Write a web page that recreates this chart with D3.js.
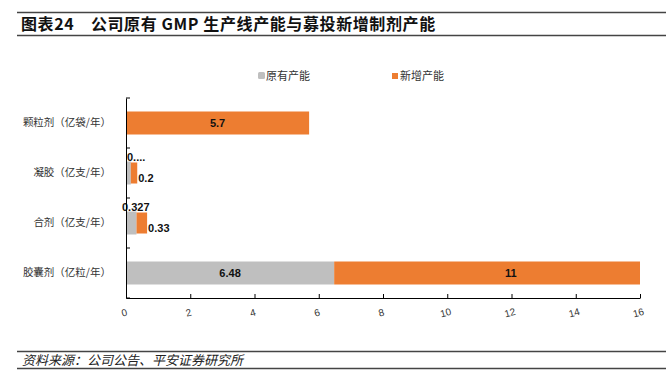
<!DOCTYPE html>
<html>
<head>
<meta charset="utf-8">
<script src="https://cdn.jsdelivr.net/npm/d3@7"></script>
<style>
  body { margin: 0; background: #fff; }
  svg { display: block; font-family: "Liberation Sans", Arial, "Noto Sans CJK SC", sans-serif; }
  .cjk { font-family: "Noto Sans CJK SC", sans-serif; }
</style>
</head>
<body>
<div id="chart"></div>
<script>
// data
const categories = ["颗粒剂（亿袋/年）", "凝胶（亿支/年）", "合剂（亿支/年）", "胶囊剂（亿粒/年）"];
const existing = [0, 0.15, 0.327, 6.48];      // 原有产能
const added = [5.7, 0.2, 0.33, 11];           // 新增产能
const existingLabels = ["", "0....", "0.327", "6.48"];
const addedLabels = ["5.7", "0.2", "0.33", "11"];
const xTicks = [0, 2, 4, 6, 8, 10, 12, 14, 16];
const seriesNames = ["原有产能", "新增产能"];
const colors = ["#BFBFBF", "#ED7D31"];

const W = 666, H = 374;
const MARGIN = { LEFT: 126, RIGHT: 26, TOP: 98, BOTTOM: 76 };
const width = W - MARGIN.LEFT - MARGIN.RIGHT;
const height = H - MARGIN.TOP - MARGIN.BOTTOM;

const svg = d3.select("#chart").append("svg")
    .attr("width", W)
    .attr("height", H);

// title block
svg.append("line").attr("x1", 17).attr("x2", 666).attr("y1", 12.5).attr("y2", 12.5)
    .attr("stroke", "#444").attr("stroke-width", 1.3);
svg.append("line").attr("x1", 17).attr("x2", 666).attr("y1", 35.5).attr("y2", 35.5)
    .attr("stroke", "#444").attr("stroke-width", 1.3);
svg.append("text")
    .attr("class", "cjk")
    .attr("x", 21).attr("y", 30)
    .attr("font-size", "16px").attr("font-weight", "bold").attr("fill", "#111")
    .attr("letter-spacing", "0.6px")
    .text("图表24\u3000公司原有 GMP 生产线产能与募投新增制剂产能");

// source block
svg.append("line").attr("x1", 17).attr("x2", 666).attr("y1", 351.5).attr("y2", 351.5)
    .attr("stroke", "#444").attr("stroke-width", 1.3);
svg.append("line").attr("x1", 17).attr("x2", 666).attr("y1", 368.5).attr("y2", 368.5)
    .attr("stroke", "#444").attr("stroke-width", 1.3);
svg.append("text")
    .attr("class", "cjk")
    .attr("x", 22).attr("y", 365)
    .attr("font-size", "13px").attr("font-style", "italic").attr("fill", "#222")
    .text("资料来源：公司公告、平安证券研究所");

const g = svg.append("g").attr("transform", `translate(${MARGIN.LEFT}, ${MARGIN.TOP})`);

// clip bars to the axis range (the capsule total runs past 16)
g.append("clipPath").attr("id", "plot-clip")
    .append("rect").attr("x", 0).attr("y", 0).attr("width", width).attr("height", height);

// scales
const x = d3.scaleLinear().domain([0, 16]).range([0, width]);
const y = d3.scaleBand().domain(categories).range([0, height])
    .paddingInner(0.54).paddingOuter(0.27);

// bars
const rows = categories.map((c, i) => ({ cat: c, base: existing[i], add: added[i], bl: existingLabels[i], al: addedLabels[i] }));

const bh = y.bandwidth();
const bars = g.append("g").attr("clip-path", "url(#plot-clip)");
bars.selectAll(".bar-base").data(rows).enter().append("rect")
    .attr("x", x(0))
    .attr("y", d => y(d.cat))
    .attr("width", d => x(d.base) - x(0))
    .attr("height", bh)
    .attr("fill", colors[0]);
bars.selectAll(".bar-add").data(rows).enter().append("rect")
    .attr("x", d => x(d.base))
    .attr("y", d => y(d.cat) + (d.add < 1 ? 1 : 0))
    .attr("width", d => x(d.base + d.add) - x(d.base))
    .attr("height", d => d.add < 1 ? bh - 2 : bh)
    .attr("fill", colors[1]);

// value labels
const labelStyle = sel => sel.attr("font-size", "11px").attr("font-weight", "bold").attr("fill", "#111");
g.selectAll(".lab-base").data(rows.filter(d => d.bl)).enter().append("text")
    .call(labelStyle)
    .attr("text-anchor", d => d.base > 1 ? "middle" : "start")
    .attr("x", d => d.base > 1 ? x(d.base / 2) : x(0) - (d.base > 0.3 ? 4 : -1))
    .attr("y", d => d.base > 1 ? y(d.cat) + bh / 2 + 4 : y(d.cat) - 1)
    .text(d => d.bl);
g.selectAll(".lab-add").data(rows).enter().append("text")
    .call(labelStyle)
    .attr("text-anchor", d => d.add > 1 ? "middle" : "start")
    .attr("x", d => d.add > 1 ? x(d.base + d.add / 2) : x(d.base + d.add) + 1)
    .attr("y", d => d.add > 1 ? y(d.cat) + bh / 2 + 4 : y(d.cat) + bh / 2 + 9)
    .text(d => d.al);

// x axis
const xAxis = g.append("g")
    .attr("transform", `translate(0, ${height})`)
    .call(d3.axisBottom(x).tickValues(xTicks).tickSizeInner(-4).tickSizeOuter(0).tickPadding(10));
xAxis.select(".domain").attr("stroke", "#000");
xAxis.selectAll(".tick line").attr("stroke", "#000");
xAxis.selectAll(".tick text")
    .attr("font-size", "10px").attr("fill", "#333")
    .attr("y", 11)
    .attr("transform", "translate(-2, 0) rotate(-15, 0, 15)");

// y axis with ticks on category boundaries
const yAxis = g.append("g")
    .call(d3.axisLeft(y).tickSize(0).tickPadding(15));
yAxis.select(".domain").attr("stroke", "#000");
yAxis.selectAll(".tick text")
    .attr("class", "cjk")
    .attr("font-size", "10.5px").attr("fill", "#333");
g.selectAll(".ybound").data(d3.range(categories.length + 1)).enter().append("line")
    .attr("x1", 0).attr("x2", 4)
    .attr("y1", i => i * y.step())
    .attr("y2", i => i * y.step())
    .attr("stroke", "#000");

// legend
const legend = svg.append("g");
const legendX = [258, 392];
seriesNames.forEach((name, i) => {
    legend.append("rect")
        .attr("x", legendX[i]).attr("y", i === 0 ? 72 : 73)
        .attr("width", i === 0 ? 7 : 6).attr("height", i === 0 ? 7 : 6)
        .attr("rx", i === 0 ? 1.5 : 0)
        .attr("fill", colors[i]);
    legend.append("text")
        .attr("class", "cjk")
        .attr("x", legendX[i] + 8).attr("y", 80)
        .attr("font-size", "11px").attr("fill", "#333")
        .text(name);
});
</script>
</body>
</html>
